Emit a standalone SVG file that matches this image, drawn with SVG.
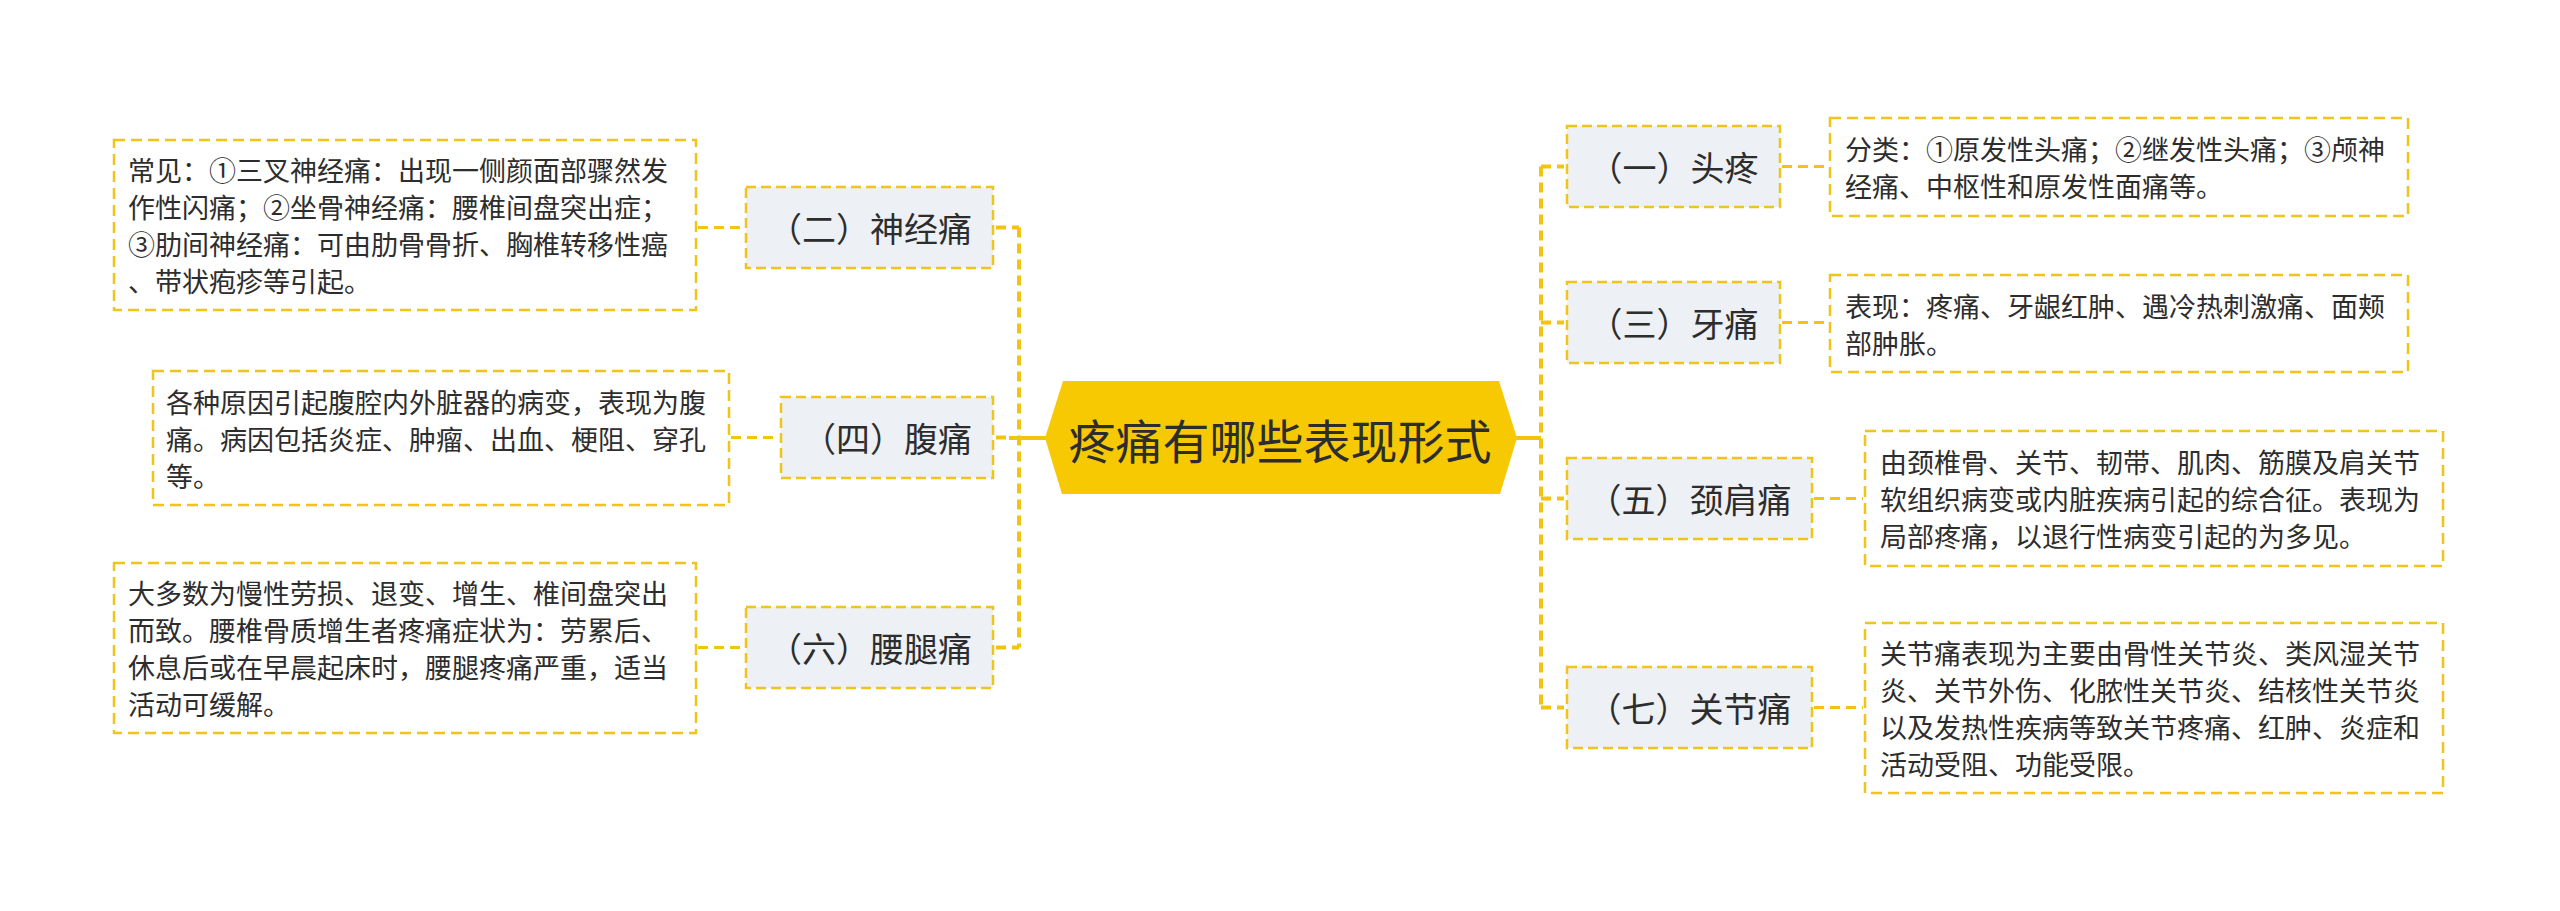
<svg xmlns="http://www.w3.org/2000/svg" width="2560" height="911" viewBox="0 0 2560 911">
<style>
text{font-family:"Noto Sans CJK SC","Noto Sans",sans-serif;fill:#2d2d2d;dominant-baseline:central}
.node rect{fill:#edf0f4;stroke:#f0c419;stroke-width:2.5;stroke-dasharray:10 5}
.node text{font-size:34px;text-anchor:middle}
.leaf rect{fill:#ffffff;stroke:#f0c419;stroke-width:2.5;stroke-dasharray:11 6}
.leaf text{font-size:27px}
.conn line,.conn path{fill:none;stroke:#f2c40f;stroke-width:4;stroke-dasharray:10 6}
.conn .solid{stroke-dasharray:none}
.conn .thin{stroke-width:3}
</style>
<rect width="2560" height="911" fill="#ffffff"/>
<g id="connectors" class="conn">
<line class="solid" x1="1009" y1="438" x2="1046" y2="438"/>
<line class="solid" x1="1516" y1="438" x2="1541" y2="438"/>
<line x1="1019" y1="227.5" x2="1019" y2="647.5"/>
<line x1="996" y1="227.5" x2="1019" y2="227.5"/>
<line x1="996" y1="437.5" x2="1006" y2="437.5"/>
<line x1="996" y1="647.5" x2="1019" y2="647.5"/>
<line x1="1541" y1="166.5" x2="1541" y2="707.5"/>
<line x1="1541" y1="166.5" x2="1564" y2="166.5"/>
<line x1="1541" y1="322.5" x2="1564" y2="322.5"/>
<line x1="1541" y1="498.5" x2="1564" y2="498.5"/>
<line x1="1541" y1="707.5" x2="1564" y2="707.5"/>
<line class="thin" x1="698" y1="227.5" x2="744" y2="227.5"/>
<line class="thin" x1="731" y1="437.5" x2="779" y2="437.5"/>
<line class="thin" x1="698" y1="647.5" x2="744" y2="647.5"/>
<line class="thin" x1="1782" y1="166.5" x2="1828" y2="166.5"/>
<line class="thin" x1="1782" y1="322.5" x2="1828" y2="322.5"/>
<line class="thin" x1="1814" y1="498.5" x2="1863" y2="498.5"/>
<line class="thin" x1="1814" y1="707.5" x2="1863" y2="707.5"/>
</g>
<g id="center">
<polygon points="1045,438 1063,381 1499,381 1517,438 1500,494 1062,494" fill="#f6c903"/>
<text x="1280" y="438" style="font-size:47px;text-anchor:middle">疼痛有哪些表现形式</text>
</g>
<g id="n2" class="node"><rect x="746" y="187" width="247" height="81"/><text x="870" y="227.5">（二）神经痛</text></g>
<g id="n4" class="node"><rect x="781" y="397" width="212" height="81"/><text x="887" y="437.5">（四）腹痛</text></g>
<g id="n6" class="node"><rect x="746" y="607" width="247" height="81"/><text x="870" y="647.5">（六）腰腿痛</text></g>
<g id="n1" class="node"><rect x="1567" y="126" width="213" height="81"/><text x="1673.5" y="166.5">（一）头疼</text></g>
<g id="n3" class="node"><rect x="1567" y="282" width="213" height="81"/><text x="1673.5" y="322.5">（三）牙痛</text></g>
<g id="n5" class="node"><rect x="1567" y="458" width="245" height="81"/><text x="1689.5" y="498.5">（五）颈肩痛</text></g>
<g id="n7" class="node"><rect x="1567" y="667" width="245" height="81"/><text x="1689.5" y="707.5">（七）关节痛</text></g>
<g id="l2" class="leaf"><rect x="114" y="140" width="582" height="170"/>
<text x="128" y="169.5">常见：①三叉神经痛：出现一侧颜面部骤然发</text>
<text x="128" y="206.5">作性闪痛；②坐骨神经痛：腰椎间盘突出症；</text>
<text x="128" y="243.5">③肋间神经痛：可由肋骨骨折、胸椎转移性癌</text>
<text x="128" y="280.5">、带状疱疹等引起。</text></g>
<g id="l4" class="leaf"><rect x="153" y="371" width="576" height="134"/>
<text x="166" y="401">各种原因引起腹腔内外脏器的病变，表现为腹</text>
<text x="166" y="438">痛。病因包括炎症、肿瘤、出血、梗阻、穿孔</text>
<text x="166" y="475">等。</text></g>
<g id="l6" class="leaf"><rect x="114" y="563" width="582" height="170"/>
<text x="128" y="592.5">大多数为慢性劳损、退变、增生、椎间盘突出</text>
<text x="128" y="629.5">而致。腰椎骨质增生者疼痛症状为：劳累后、</text>
<text x="128" y="666.5">休息后或在早晨起床时，腰腿疼痛严重，适当</text>
<text x="128" y="703.5">活动可缓解。</text></g>
<g id="l1" class="leaf"><rect x="1830" y="118" width="578" height="98"/>
<text x="1845" y="148.5">分类：①原发性头痛；②继发性头痛；③颅神</text>
<text x="1845" y="185.5">经痛、中枢性和原发性面痛等。</text></g>
<g id="l3" class="leaf"><rect x="1830" y="275" width="578" height="97"/>
<text x="1845" y="305">表现：疼痛、牙龈红肿、遇冷热刺激痛、面颊</text>
<text x="1845" y="342">部肿胀。</text></g>
<g id="l5" class="leaf"><rect x="1865" y="431" width="578" height="135"/>
<text x="1880" y="461.5">由颈椎骨、关节、韧带、肌肉、筋膜及肩关节</text>
<text x="1880" y="498.5">软组织病变或内脏疾病引起的综合征。表现为</text>
<text x="1880" y="535.5">局部疼痛，以退行性病变引起的为多见。</text></g>
<g id="l7" class="leaf"><rect x="1865" y="623" width="578" height="170"/>
<text x="1880" y="652.5">关节痛表现为主要由骨性关节炎、类风湿关节</text>
<text x="1880" y="689.5">炎、关节外伤、化脓性关节炎、结核性关节炎</text>
<text x="1880" y="726.5">以及发热性疾病等致关节疼痛、红肿、炎症和</text>
<text x="1880" y="763.5">活动受阻、功能受限。</text></g>
</svg>
